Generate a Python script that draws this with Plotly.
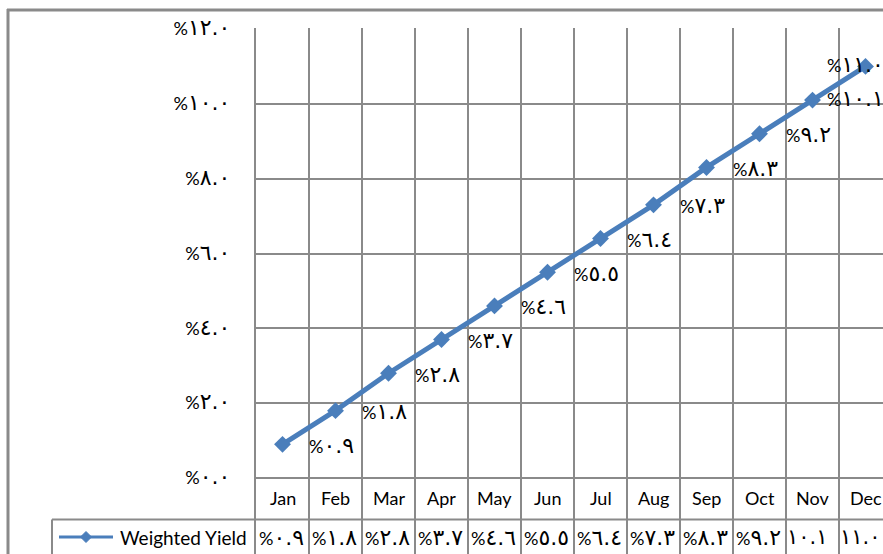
import plotly.graph_objects as go

# ---- data -------------------------------------------------------------
months = ["Jan", "Feb", "Mar", "Apr", "May", "Jun",
          "Jul", "Aug", "Sep", "Oct", "Nov", "Dec"]
weighted_yield = [0.9, 1.8, 2.8, 3.7, 4.6, 5.5, 6.4, 7.3, 8.3, 9.2, 10.1, 11.0]
y_ticks = [0, 2, 4, 6, 8, 10, 12]
series_name = "Weighted Yield"

# ---- helpers ----------------------------------------------------------
W, H = 883, 554
AR_DIGITS = str.maketrans("0123456789", "٠١٢٣٤٥٦٧٨٩")


def ar_num(v, size=22):
    digits = f"{v:.1f}".translate(AR_DIGITS)
    return (f"<span style='font-family:DejaVu Sans;font-size:{size}px'>"
            f"{digits}</span>")


def ar_pct(v):
    return "%" + ar_num(v)


def px(x):
    """horizontal pixel -> paper fraction"""
    return x / W


def py(y):
    """vertical pixel (from top) -> paper fraction"""
    return (H - y) / H


BLUE = "#4A7EBB"
GRID = "#8a8a8a"
FONT = "Lato, DejaVu Sans, sans-serif"
FS = 18

# plot-area geometry (pixels)
plot_left, plot_top, zero_y = 256, 28, 478
col_w = 53
px_per_unit = (zero_y - 29) / 12.0
y_lo = -(H - zero_y) / px_per_unit
y_hi = 12 + (29 - plot_top) / px_per_unit
x_hi = -0.5 + (W - plot_left) / col_w

fig = go.Figure()
fig.add_trace(go.Scatter(
    x=months, y=weighted_yield, mode="lines+markers", name=series_name,
    line=dict(color=BLUE, width=5),
    marker=dict(symbol="diamond", size=13, color=BLUE),
    showlegend=False, cliponaxis=False,
))

annotations = []
# value labels to the right of each point; the last ones are pushed back
# inside the chart's right edge
for i, (m, v) in enumerate(zip(months, weighted_yield)):
    if i < len(months) - 2:
        annotations.append(dict(
            x=m, y=v, xref="x", yref="y", text=ar_pct(v), showarrow=False,
            xanchor="left", yanchor="middle", xshift=24, yshift=-1,
            font=dict(family=FONT, size=FS, color="black")))
    else:
        annotations.append(dict(
            x=px(886), y=v, xref="paper", yref="y", text=ar_pct(v),
            showarrow=False, xanchor="right", yanchor="middle", yshift=2,
            font=dict(family=FONT, size=FS, color="black")))

# data table: category row and value row
for i, (m, v) in enumerate(zip(months, weighted_yield)):
    annotations.append(dict(
        x=i, y=py(498), xref="x", yref="paper", text=m, showarrow=False,
        xanchor="center", yanchor="middle",
        font=dict(family=FONT, size=FS, color="black")))
    if v < 10:
        annotations.append(dict(
            x=i, y=py(537), xref="x", yref="paper", text=ar_pct(v),
            showarrow=False, xanchor="center", yanchor="middle", xshift=-1,
            font=dict(family=FONT, size=FS, color="black")))
    else:
        # two-digit values lose the % sign in the narrow cells
        annotations.append(dict(
            x=i, y=py(537), xref="x", yref="paper", text=ar_num(v, 21),
            showarrow=False, xanchor="center", yanchor="middle", xshift=-5,
            font=dict(family=FONT, size=FS, color="black")))

# legend key text in the table's first column
annotations.append(dict(
    x=px(118), y=py(537), xref="paper", yref="paper", text=series_name,
    showarrow=False, xanchor="left", yanchor="middle",
    font=dict(family=FONT, size=19, color="black")))

# frame, table rules and legend key
r = 5.5
kx, ky = 86, 537
diamond = (f"M {px(kx - r)} {py(ky)} L {px(kx)} {py(ky - r)} "
           f"L {px(kx + r)} {py(ky)} L {px(kx)} {py(ky + r)} Z")
shapes = [
    dict(type="line", xref="paper", yref="paper", x0=px(7), x1=1,
         y0=py(10), y1=py(10), line=dict(color=GRID, width=3)),
    dict(type="line", xref="paper", yref="paper", x0=px(8), x1=px(8),
         y0=0, y1=py(9), line=dict(color=GRID, width=3)),
    dict(type="line", xref="paper", yref="paper", x0=px(52), x1=1,
         y0=py(519.5), y1=py(519.5), line=dict(color=GRID, width=2)),
    dict(type="line", xref="paper", yref="paper", x0=px(52), x1=px(52),
         y0=0, y1=py(519.5), line=dict(color=GRID, width=2)),
    dict(type="line", xref="paper", yref="paper", x0=px(59), x1=px(113),
         y0=py(ky), y1=py(ky), line=dict(color=BLUE, width=3)),
    dict(type="path", xref="paper", yref="paper", path=diamond,
         fillcolor=BLUE, line=dict(color=BLUE, width=1)),
]

fig.update_layout(
    width=W, height=H, autosize=False,
    margin=dict(l=0, r=0, t=0, b=0, pad=0, autoexpand=False),
    paper_bgcolor="white", plot_bgcolor="white",
    font=dict(family=FONT, size=FS, color="black"),
    xaxis=dict(
        type="category", categoryorder="array", categoryarray=months,
        domain=[px(plot_left), 1], range=[-0.5, x_hi], automargin=False,
        tickson="boundaries", showgrid=True, gridcolor=GRID, gridwidth=2,
        showticklabels=False, ticks="", zeroline=False, showline=False,
        fixedrange=True,
    ),
    yaxis=dict(
        domain=[0, py(plot_top)], range=[y_lo, y_hi], automargin=False,
        tickvals=y_ticks, ticktext=[ar_pct(v) for v in y_ticks],
        showgrid=True, gridcolor=GRID, gridwidth=2, zeroline=False,
        showline=True, linecolor=GRID, linewidth=2, ticks="",
        ticklabelstandoff=20, tickfont=dict(family=FONT, size=FS),
        fixedrange=True,
    ),
    annotations=annotations,
    shapes=shapes,
    showlegend=False,
)

fig.write_html("out.html")
